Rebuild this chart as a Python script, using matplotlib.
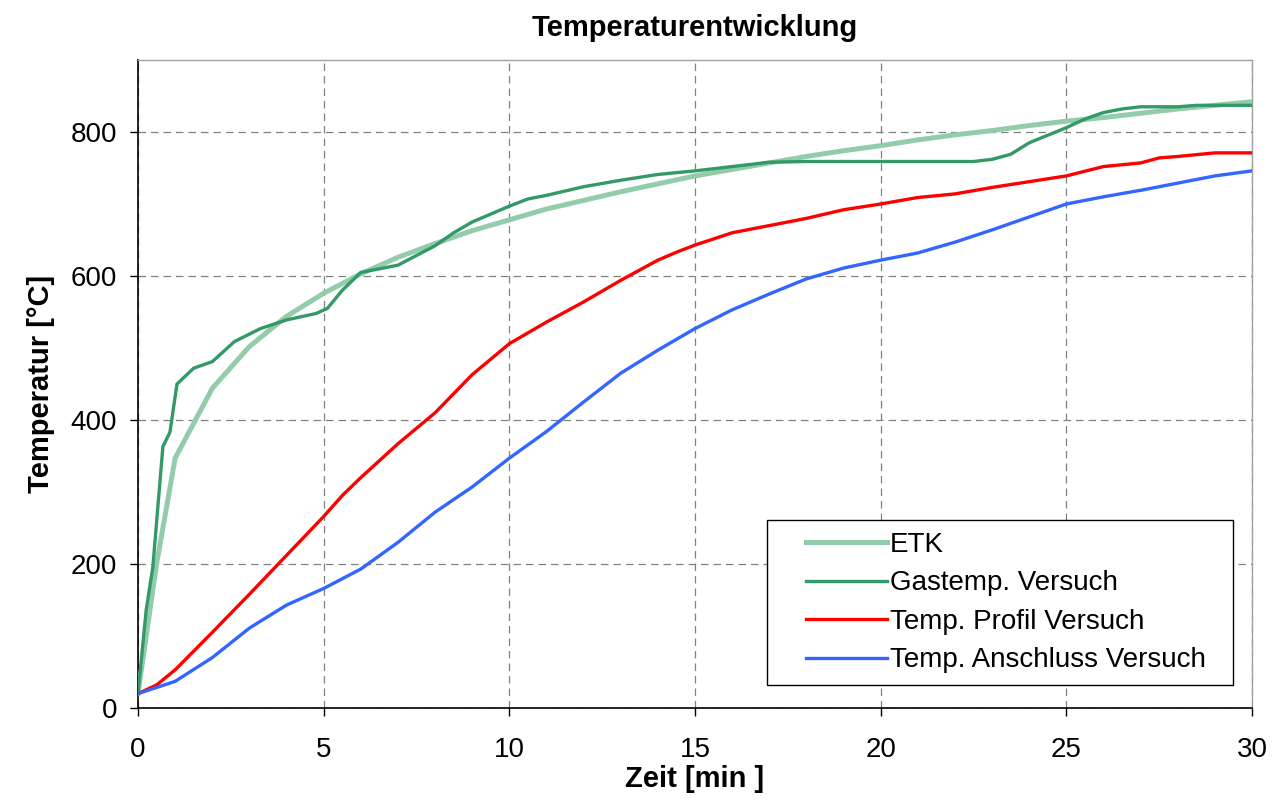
import matplotlib.pyplot as plt
from matplotlib.legend_handler import HandlerLine2D

plt.rcParams['font.family'] = ['Liberation Sans', 'DejaVu Sans']

# ETK (Einheitstemperaturkurve)
t_etk = [0, 0.5, 1, 2, 3, 4, 5, 6, 7, 8, 9, 10, 11, 12, 13, 14, 15,
         16, 17, 18, 19, 20, 21, 22, 23, 24, 25, 26, 27, 28, 29, 30]
T_etk = [20, 200, 347, 444, 502, 544, 576, 603, 626, 645, 663, 678, 693,
         705, 717, 728, 739, 748, 757, 766, 774, 781, 789, 796, 802, 809,
         815, 820, 826, 832, 837, 842]

# Gastemperatur im Versuch
t_gas = [0, 0.22, 0.4, 0.67, 0.86, 1.05, 1.5, 2, 2.6, 3.3, 4, 4.8, 5.1,
         5.5, 6, 7, 8, 8.5, 9, 10, 10.5, 11, 12, 13, 14, 15, 16, 17, 18,
         22.5, 23, 23.5, 24, 25, 25.5, 26, 26.5, 27, 28, 28.5, 30]
T_gas = [20, 136, 196, 363, 383, 450, 472, 481, 509, 527, 539, 548, 555,
         580, 605, 615, 642, 660, 675, 697, 707, 712, 724, 733, 741, 746,
         752, 758, 759, 759, 762, 769, 785, 806, 818, 827, 832, 835, 835,
         837, 837]

# Temperatur am Profil
t_prof = [0, 0.5, 1, 2, 3, 4, 5, 5.5, 6, 7, 8, 9, 10, 11, 12, 13, 14, 14.5,
          15, 16, 17, 18, 19, 20, 21, 22, 23, 24, 25, 26, 27, 27.5, 28, 29, 30]
T_prof = [20, 32, 53, 105, 158, 212, 266, 295, 320, 367, 410, 463, 506,
          536, 564, 594, 622, 633, 643, 660, 670, 680, 692, 700, 709, 714,
          723, 731, 739, 752, 757, 764, 766, 771, 771]

# Temperatur am Anschluss
t_ansch = [0, 1, 2, 3, 4, 5, 6, 7, 8, 9, 10, 11, 12, 13, 14, 15, 16, 17,
           18, 19, 20, 21, 22, 23, 24, 25, 26, 27, 28, 29, 30]
T_ansch = [20, 37, 70, 111, 143, 166, 193, 230, 272, 307, 347, 384, 425,
           465, 497, 527, 553, 575, 596, 611, 622, 632, 647, 664, 682, 700,
           710, 719, 729, 739, 746]

fig = plt.figure(figsize=(12.79, 8.02), dpi=100)
ax = fig.add_axes([0.1079, 0.1172, 0.871, 0.808])

ax.plot(t_etk, T_etk, color='#93CCAA', lw=3.6, label='ETK', zorder=3)
ax.plot(t_gas, T_gas, color='#339966', lw=2.4, label='Gastemp. Versuch', zorder=4)
ax.plot(t_prof, T_prof, color='#FF0000', lw=2.4, label='Temp. Profil Versuch', zorder=4)
ax.plot(t_ansch, T_ansch, color='#3366FF', lw=2.4, label='Temp. Anschluss Versuch', zorder=4)

ax.set_xlim(0, 30)
ax.set_ylim(0, 900)
ax.set_xticks(range(0, 31, 5))
ax.set_yticks(range(0, 801, 200))
ax.grid(True, color='#808080', linestyle=(0, (6, 4)), lw=0.9)
ax.tick_params(labelsize=20, direction='out', length=6, width=1, colors='black')
ax.tick_params(axis='x', pad=15)
ax.tick_params(axis='y', pad=9)

for side in ['left', 'bottom']:
    ax.spines[side].set_color('black')
    ax.spines[side].set_linewidth(1.2)
for side in ['top', 'right']:
    ax.spines[side].set_color('#A0A0A0')
    ax.spines[side].set_linewidth(1.0)

ax.set_title('Temperaturentwicklung', fontsize=21, fontweight='bold', pad=17)
ax.set_xlabel('Zeit [min ]', fontsize=21, fontweight='bold', labelpad=1)
ax.set_ylabel('Temperatur [°C]', fontsize=21, fontweight='bold', labelpad=11)

# handles start a bit inside the frame
hmap = {ln: HandlerLine2D(xpad=1.0) for ln in ax.get_lines()}
leg = ax.legend(loc='lower left', bbox_to_anchor=(0.5646, 0.0355, 0.4183, 0.256),
                mode='expand', fontsize=20, handler_map=hmap,
                frameon=True, fancybox=False, framealpha=1, edgecolor='black',
                handlelength=3.9, handletextpad=0.1, borderpad=0.42,
                labelspacing=0.45, borderaxespad=0)
leg.get_frame().set_linewidth(1.0)

fig.savefig('out.png', dpi=100)
